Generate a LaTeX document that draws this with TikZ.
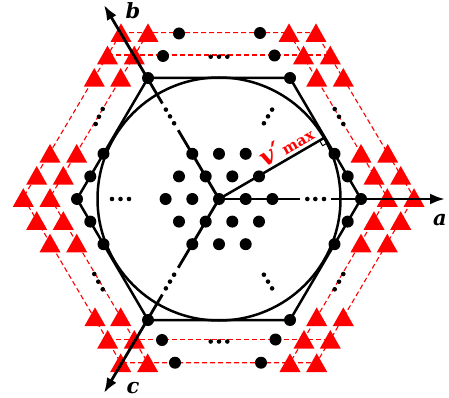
\documentclass[tikz,border=0pt]{standalone}
\usepackage{fontspec}
\setmainfont{DejaVu Serif}
\usetikzlibrary{arrows.meta}
\begin{document}
\begin{tikzpicture}[x=1pt,y=-1pt,
  axisline/.style={line width=2.8pt},
  axisarrow/.style={line width=2.8pt, -{Latex[length=15pt,width=11pt]}},
  hexline/.style={line width=2.5pt, line join=round},
  rdash/.style={red, line width=1.1pt, dash pattern=on 5pt off 3pt},
  bigdot/.pic={\fill[black] (0,0) circle[radius=6];},
  smalldot/.pic={\fill[black] (0,0) circle[radius=2.3];},
  tri/.pic={\fill[red] (-10.5,9.3) -- (10.5,9.3) -- (0,-9.3) -- cycle;},
  lab/.style={font=\fontsize{21}{21}\selectfont\bfseries\itshape, inner sep=0pt},
]
\useasboundingbox (0,0) rectangle (449,398);

% ---------- key points ----------
\coordinate (O) at (219,199);
\coordinate (V0) at (361,199);
\coordinate (V1) at (290,78);
\coordinate (V2) at (148,78);
\coordinate (V3) at (77,199);
\coordinate (V4) at (148,320);
\coordinate (V5) at (290,320);
\coordinate (Aend) at (445,199);
\coordinate (Bend) at (104,5);
\coordinate (Cend) at (104,393);
\coordinate (P) at (324.8,137.5);

% ---------- red dashed rows ----------
\coordinate (OT1) at (121,32.7);  \coordinate (OT2) at (316,32.7);
\coordinate (OR)  at (414,197.5); \coordinate (OB2) at (316.7,362.7);
\coordinate (OB1) at (120.7,362.7); \coordinate (OL) at (23.3,197.5);
\draw[rdash] (OT1) -- (OT2) -- (OR) -- (OB2) -- (OB1) -- (OL) -- cycle;
\coordinate (IT1) at (148,32.7);  \coordinate (IT2) at (289,32.7);
\coordinate (IR)  at (387.3,197.5); \coordinate (IB2) at (290,362.7);
\coordinate (IB1) at (147.7,362.7); \coordinate (IL) at (50,197.5);
\draw[rdash] (IT1) -- (IL) -- (IB1);
\draw[rdash] (IT2) -- (IR) -- (IB2);
\coordinate (H1a) at (107.5,55);  \coordinate (H1b) at (330.3,55);
\coordinate (H2a) at (107.7,339.3); \coordinate (H2b) at (330.3,339.3);
\draw[rdash] (H1a) -- (H1b);
\draw[rdash] (H2a) -- (H2b);

% ---------- red triangles ----------
\foreach \yy/\xl in {
  32.7/{121,148,289,316},
  55/{107.5,134.3,303.5,330.3},
  77.3/{94.3,120.7,316.7,343.3},
  153.3/{50,76.7,361,387.7},
  175.3/{36.7,63.3,374,400.7},
  197.5/{23.3,50,387.3,414},
  220.5/{36.7,63.3,374,400.7},
  243/{50,76.7,361,387.3},
  316.7/{95,120.7,316.7,343.3},
  339.3/{107.7,134.3,304,330.3},
  362.7/{120.7,147.7,290,316.7}}
{ \foreach \xx in \xl { \pic at (\xx,\yy) {tri}; } }

% ---------- circle and hexagon ----------
\draw[line width=2.5pt] (O) circle[radius=121.5];
\draw[hexline] (V0) -- (V1) -- (V2) -- (V3) -- (V4) -- (V5) -- cycle;

% ---------- axes ----------
\draw[axisline] (O) -- (300,199);
\draw[axisarrow] (331,199) -- (Aend);
\draw[axisline] (O) -- (178.2,130.2);
\draw[axisarrow] (162.4,103.5) -- (Bend);
\draw[axisline] (O) -- (178.2,267.8);
\draw[axisarrow] (162.4,294.5) -- (Cend);

% ---------- v'max line with right angle ----------
\draw[line width=2.5pt] (O) -- (P);
\draw[line width=1pt] (319.6,140.5) -- (322.6,145.7) -- (327.8,142.7);

% ---------- lattice dots ----------
\foreach \yy/\xl in {
  153.8/{192.3,219,245.7},
  176.4/{179,205.7,232.3,259},
  199/{165.6,192.3,219,245.7,272.4},
  221.6/{179,205.7,232.3,259},
  244.2/{192.3,219,245.7}}
{ \foreach \xx in \xl { \pic at (\xx,\yy) {bigdot}; } }

% hexagon vertices and edge dots
\foreach \p in {V0,V1,V2,V3,V4,V5} { \pic at (\p) {bigdot}; }
\foreach \xx/\yy in {103.5/153.8, 90.3/176.4, 90.3/221.6, 103.5/244.2,
                     334.5/153.8, 347.7/176.4, 347.7/221.6, 334.5/244.2}
{ \pic at (\xx,\yy) {bigdot}; }

% dots on red rows
\foreach \xx/\yy in {179/33.5, 260/33, 163/56, 274.5/55.5,
                     162/340, 275.5/339.5, 175/362.7, 261/362.7}
{ \pic at (\xx,\yy) {bigdot}; }

% ---------- ellipsis dots ----------
\foreach \xx/\yy in {
  307.3/199, 315.3/199, 324/199,
  129/199, 120.5/199, 112/199,
  174.1/123.3, 170/116.4, 165.9/109.6,
  263.9/123.3, 268/116.4, 272.1/109.6,
  174.1/274.7, 170/281.6, 165.9/288.4,
  263.9/274.7, 268/281.6, 272.1/288.4,
  210.7/56.7, 219/56.7, 227.3/56.7,
  210.7/341.5, 219/341.5, 227.3/341.5,
  102.7/109, 99/116.7, 95.7/124,
  334.7/109, 339/116.7, 343.3/124,
  94.3/274, 98.3/281.7, 102.7/289.3,
  343.3/274, 339/281.7, 334.7/289.3}
{ \pic at (\xx,\yy) {smalldot}; }

% ---------- labels ----------
\node[lab] (la) at (440,220) {a};
\node[lab] (lb) at (133,11) {b};
\node[lab] (lc) at (133,388) {c};
\node[red, rotate=30, inner sep=0pt] (lv) at (286,145)
  {{\fontsize{25}{25}\selectfont\bfseries\itshape v\kern0.5pt′}\,{\fontsize{15}{15}\selectfont\bfseries max}};
\end{tikzpicture}
\end{document}
